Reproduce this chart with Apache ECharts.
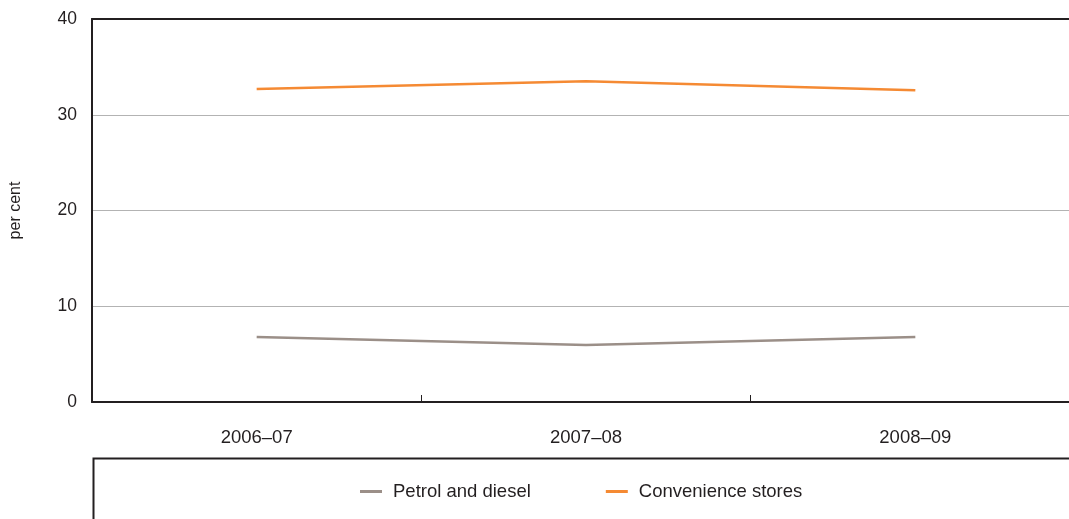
<!DOCTYPE html>
<html>
<head>
<meta charset="utf-8">
<script src="https://cdn.jsdelivr.net/npm/echarts@6/dist/echarts.min.js"></script>
<style>
html,body{margin:0;padding:0;background:#fff;overflow:hidden;}
#main{width:1080px;height:519px;}
</style>
</head>
<body>
<div id="main"></div>
<script>
let years = ['2006\u201307', '2007\u201308', '2008\u201309'];
let petrol = [6.8, 5.95, 6.8];
let convenience = [32.7, 33.5, 32.55];
let yTicks = [0, 10, 20, 30, 40];

let chart = echarts.init(document.getElementById('main'));
let txt = '#231f20';
let font = 'Liberation Sans, Arial, sans-serif';

let option = {
	animation: false,
	textStyle: { fontFamily: font },
	grid: {
		left: 91,
		right: 0,
		top: 19,
		bottom: 117
	},
	legend: {
		top: 477,
		left: 355,
		itemWidth: 22,
		itemHeight: 3,
		itemGap: 75,
		icon: 'rect',
		textStyle: { fontSize: 18.5, color: txt, fontFamily: font, padding: [0, 0, 0, 6] },
		data: ['Petrol and diesel', 'Convenience stores']
	},
	xAxis: [{
		type: 'category',
		data: years,
		boundaryGap: true,
		axisLine: { lineStyle: { color: txt, width: 2 } },
		axisTick: { show: true, length: 7, inside: true, lineStyle: { color: txt, width: 1 } },
		axisLabel: { color: txt, fontSize: 18.5, margin: 26 }
	}, {
		type: 'category',
		position: 'top',
		data: years,
		axisLine: { lineStyle: { color: txt, width: 2 } },
		axisTick: { show: false },
		axisLabel: { show: false }
	}],
	yAxis: {
		type: 'value',
		min: yTicks[0],
		max: yTicks[yTicks.length - 1],
		interval: 10,
		name: 'per cent',
		nameLocation: 'middle',
		nameGap: 68,
		nameTextStyle: { color: txt, fontSize: 16 },
		axisLine: { show: true, lineStyle: { color: txt, width: 2 } },
		axisTick: { show: false },
		axisLabel: { color: txt, fontSize: 17.5, margin: 15 },
		splitLine: { lineStyle: { color: '#b3b3b3', width: 1 } }
	},
	graphic: [{
		type: 'rect',
		left: 91,
		top: 456,
		shape: { width: 1000, height: 100 },
		style: { fill: 'none', stroke: txt, lineWidth: 2 }
	}],
	series: [{
		name: 'Petrol and diesel',
		type: 'line',
		data: petrol,
		symbol: 'none',
		color: '#9b8f88',
		lineStyle: { width: 2.5 }
	}, {
		name: 'Convenience stores',
		type: 'line',
		data: convenience,
		symbol: 'none',
		color: '#f58a33',
		lineStyle: { width: 2.5 }
	}]
};

chart.setOption(option);
</script>
</body>
</html>
